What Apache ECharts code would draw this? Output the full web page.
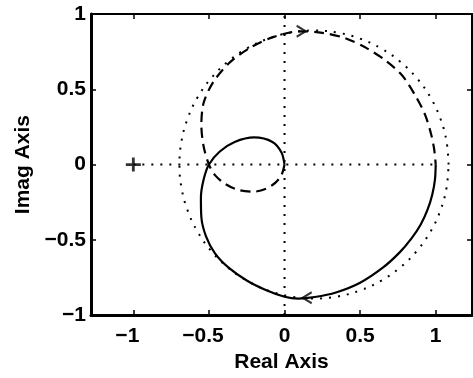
<!DOCTYPE html>
<html><head><meta charset="utf-8">
<script src="https://cdn.jsdelivr.net/npm/echarts@6/dist/echarts.min.js"></script>
<style>html,body{margin:0;padding:0;background:#fff}#c{width:473px;height:378px}</style>
</head><body><div id="c"></div>
<script>
const xTicks = [-1, -0.5, 0, 0.5, 1];
const yTicks = [-1, -0.5, 0, 0.5, 1];
const xTitle = 'Real Axis';
const yTitle = 'Imag Axis';

// positive-frequency branch (solid)
const solidBranch = [
  [1.0,0.0],[0.995,-0.1],[0.977,-0.2],[0.946,-0.3],[0.9,-0.4],[0.84,-0.49],[0.76,-0.585],
  [0.65,-0.685],[0.5,-0.785],[0.34,-0.85],[0.2,-0.88],[0.09,-0.89],[0.0,-0.878],
  [-0.12,-0.835],[-0.25,-0.77],[-0.37,-0.685],[-0.46,-0.59],[-0.52,-0.475],[-0.55,-0.35],
  [-0.553,-0.22],[-0.535,-0.1],[-0.5,0.0],[-0.43,0.085],[-0.33,0.15],[-0.2,0.18],
  [-0.08,0.15],[-0.02,0.08],[0.0,0.0]
];
// negative-frequency branch (dashed)
const dashedBranch = [
  [0.0,0.0],[-0.02,-0.07],[-0.06,-0.12],[-0.12,-0.16],[-0.2,-0.18],[-0.3,-0.17],
  [-0.39,-0.13],[-0.46,-0.07],[-0.5,0.0],[-0.535,0.12],[-0.55,0.26],[-0.535,0.41],
  [-0.47,0.55],[-0.36,0.68],[-0.22,0.78],[-0.08,0.845],[0.1,0.885],[0.25,0.875],
  [0.4,0.84],[0.54,0.775],[0.67,0.69],[0.78,0.59],[0.87,0.45],[0.93,0.33],
  [0.97,0.2],[0.99,0.1],[1.0,0.0]
];
// dotted circle
const dottedCircle = [
  [1.085,0],[1.0715,0.1545],[1.0313,0.3044],[0.9658,0.445],[0.8768,0.5721],[0.7671,0.6818],
  [0.640,0.7708],[0.4994,0.8363],[0.3495,0.8765],[0.195,0.89],[0.0405,0.8765],[-0.1094,0.8363],
  [-0.25,0.7708],[-0.3771,0.6818],[-0.4868,0.5721],[-0.5758,0.445],[-0.6413,0.3044],[-0.6815,0.1545],
  [-0.695,0],[-0.6815,-0.1545],[-0.6413,-0.3044],[-0.5758,-0.445],[-0.4868,-0.5721],[-0.3771,-0.6818],
  [-0.25,-0.7708],[-0.1094,-0.8363],[0.0405,-0.8765],[0.195,-0.89],[0.3495,-0.8765],[0.4994,-0.8363],
  [0.640,-0.7708],[0.7671,-0.6818],[0.8768,-0.5721],[0.9658,-0.445],[1.0313,-0.3044],[1.0715,-0.1545],
  [1.085,0]
];
const realLine = [[-1,0],[1,0]];
const imagLine = [[0,-1],[0,1]];
const criticalPoint = [[-1,0]];
const arrowSolid = [[0.15,-0.885]];
const arrowDashed = [[0.11,0.885]];

const FONT = "'Liberation Sans', Arial, Helvetica, sans-serif";
const minus = v => (v < 0 ? '\u2212' + Math.abs(v) : String(v));
const txt = {fontFamily: FONT, fontWeight: 'bold', fontSize: 21, color: '#000'};

const chart = echarts.init(document.getElementById('c'), null, {renderer: 'canvas'});
const axBase = {
  type: 'value', splitLine: {show: false},
  axisLine: {onZero: false, lineStyle: {color: '#000', width: 2}},
  axisTick: {inside: true, length: 5, lineStyle: {color: '#000', width: 1.5}},
};
chart.setOption({
  animation: false,
  backgroundColor: '#fff',
  grid: {left: 91, right: 1, top: 14, bottom: 61},
  xAxis: [
    Object.assign({}, axBase, {
      min: -1.28, max: 1.24, position: 'bottom',
      axisLine: {onZero: false, lineStyle: {color: '#000', width: 3}},
      axisTick: {inside: true, length: 5, customValues: xTicks, lineStyle: {color: '#000', width: 1.5}},
      axisLabel: {
        customValues: xTicks, margin: 11,
        formatter: v => v < 0 ? '{n|' + minus(v) + '}{p|}' : '{n|' + v + '}',
        rich: {n: txt, p: {width: 12}}
      },
      name: xTitle, nameLocation: 'middle', nameGap: 34, nameTextStyle: txt
    }),
    Object.assign({}, axBase, {
      min: -1.28, max: 1.24, position: 'top',
      axisTick: {inside: true, length: 5, customValues: xTicks, lineStyle: {color: '#000', width: 1.5}},
      axisLabel: {show: false}
    })
  ],
  yAxis: [
    Object.assign({}, axBase, {
      min: -1, max: 1, position: 'left',
      axisLine: {onZero: false, lineStyle: {color: '#000', width: 3}},
      axisTick: {inside: true, length: 5, customValues: yTicks, lineStyle: {color: '#000', width: 1.5}},
      axisLabel: Object.assign({customValues: yTicks, margin: 5, formatter: minus}, txt),
      name: yTitle, nameLocation: 'middle', nameGap: 57, nameTextStyle: txt
    }),
    Object.assign({}, axBase, {
      min: -1, max: 1, position: 'right',
      axisTick: {inside: true, length: 5, customValues: yTicks, lineStyle: {color: '#000', width: 1.5}},
      axisLabel: {show: false}
    })
  ],
  series: [
    {type: 'line', data: realLine, showSymbol: false, symbol: 'none',
     lineStyle: {color: '#000', width: 2, type: [2, 7]}},
    {type: 'line', data: imagLine, showSymbol: false, symbol: 'none',
     lineStyle: {color: '#000', width: 2, type: [2, 7]}},
    {type: 'line', data: dottedCircle, smooth: 0.4, showSymbol: false, symbol: 'none',
     lineStyle: {color: '#000', width: 2, type: [2, 7]}},
    {type: 'line', data: dashedBranch, smooth: 0.3, showSymbol: false, symbol: 'none',
     lineStyle: {color: '#000', width: 2.2, type: [10, 6]}},
    {type: 'line', data: solidBranch, smooth: 0.3, showSymbol: false, symbol: 'none',
     lineStyle: {color: '#000', width: 2.2}},
    {type: 'scatter', data: criticalPoint, symbol: 'path://M0,6 L16,6 L16,9 L0,9 Z M6.5,0 L9.5,0 L9.5,15 L6.5,15 Z',
     symbolSize: [15, 14], itemStyle: {color: '#000'}},
    {type: 'scatter', data: arrowSolid, symbol: 'path://M10,0 L0,5 L10,10',
     symbolSize: [9, 11], itemStyle: {color: 'transparent', borderColor: '#000', borderWidth: 2}},
    {type: 'scatter', data: arrowDashed, symbol: 'path://M0,0 L10,5 L0,10',
     symbolSize: [9, 11], itemStyle: {color: 'transparent', borderColor: '#000', borderWidth: 2}}
  ]
});
</script></body></html>
